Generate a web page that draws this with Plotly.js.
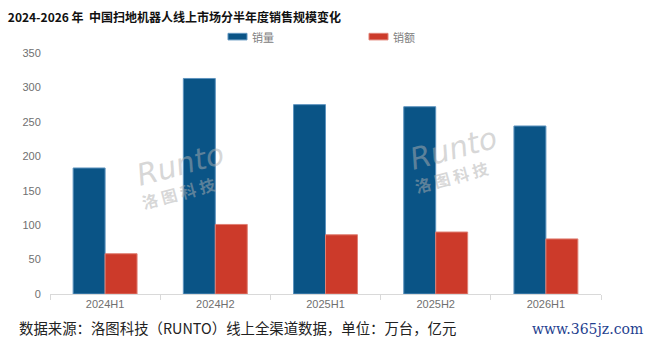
<!DOCTYPE html>
<html><head><meta charset="utf-8">
<script src="https://cdn.plot.ly/plotly-3.0.1.min.js"></script>
<style>html,body{margin:0;padding:0;background:#fff}#chart{width:650px;height:347px}</style>
</head><body><div id="chart"></div>
<script>
var categories = ["2024H1","2024H2","2025H1","2025H2","2026H1"];
var salesVolume = [183, 313, 275, 272, 244];   // 销量 万台
var salesValue = [58.5, 101, 86, 90, 80];      // 销额 亿元
var yTicks = [0,50,100,150,200,250,300,350];
var seriesNames = ["销量","销额"];
var seriesColors = ["#0A5486","#CC3A2A"];

var cjk = '"Noto Sans CJK SC", "Noto Sans", sans-serif';
var traces = [
  {type:'bar', name:seriesNames[0], x:categories, y:salesVolume, showlegend:false,
   marker:{color:seriesColors[0], line:{color:'#5D93BE', width:1}}},
  {type:'bar', name:seriesNames[1], x:categories, y:salesValue, showlegend:false,
   marker:{color:seriesColors[1], line:{color:'#E07F73', width:1}}}
];
function px(x){return (x-50)/551;}
function py(y){return (294-y)/239;}
var ann = [];
[[180,166,-2],[453,150,-2]].forEach(function(p){
  ann.push({xref:'paper', yref:'paper', x:px(p[0]), y:py(p[1]), xanchor:'center', yanchor:'middle', text:'<i>Runto</i>', showarrow:false,
    textangle:-15, font:{family:'DejaVu Sans, sans-serif', size:30, color:'rgba(175,175,175,0.5)'}});
  ann.push({xref:'paper', yref:'paper', x:px(p[0]+p[2]), y:py(p[1]+28), xanchor:'center', yanchor:'middle', text:'<b>洛 图 科 技</b>', showarrow:false,
    textangle:-15, font:{family:cjk, size:16, color:'rgba(175,175,175,0.5)'}});
});
var shapes = [];
var legX = [228, 369];
seriesNames.forEach(function(n,i){
  shapes.push({type:'rect', xref:'paper', yref:'paper', x0:px(legX[i]), x1:px(legX[i]+19), y0:py(42), y1:py(35.5),
    fillcolor:seriesColors[i], line:{color:i?'#E07F73':'#5D93BE', width:1}});
  ann.push({xref:'paper', yref:'paper', x:px(legX[i]+22), y:py(39), xanchor:'left', yanchor:'middle', showarrow:false,
    text:n, font:{family:cjk, size:11, color:'#808080'}});
});
var layout = {
  width:650, height:347,
  margin:{l:50, r:49, t:53, b:53},
  paper_bgcolor:'#fff', plot_bgcolor:'#fff',
  barmode:'group', bargap:0.42, bargroupgap:0,
  showlegend:false,
  font:{family:cjk, color:'#595959'},
  title:{text:'<b>2024-2026 年  中国扫地机器人线上市场分半年度销售规模变化</b>', x:0.012, xanchor:'left', y:0.95, yanchor:'middle',
    font:{family:cjk, size:12, color:'#111'}},
  xaxis:{type:'category', showline:true, linecolor:'#D9D9D9', ticks:'outside', ticklen:5, tickcolor:'#D9D9D9',
    tickson:'boundaries', showgrid:false, tickfont:{family:'Liberation Sans, Arial, sans-serif', size:11, color:'#707070'}},
  yaxis:{range:[0,350], tickvals:yTicks, showgrid:false, zeroline:false, showline:false,
    tickfont:{family:'Liberation Sans, Arial, sans-serif', size:11, color:'#707070'}, ticklen:6, ticks:'outside', tickcolor:'#fff'},
  shapes: shapes,
  annotations: ann.concat([
    {xref:'paper', yref:'paper', x:px(17), y:py(327), xanchor:'left', yanchor:'middle', showarrow:false,
      text:'数据来源：洛图科技（RUNTO）线上全渠道数据，单位：万台，亿元', font:{family:cjk, size:14.4, color:'#222'}},
    {xref:'paper', yref:'paper', x:px(645), y:py(329), xanchor:'right', yanchor:'middle', showarrow:false,
      text:'www.365jz.com', font:{family:'DejaVu Serif, serif', size:14, color:'#1F3F8F'}}
  ])
};
Plotly.newPlot('chart', traces, layout, {displayModeBar:false, staticPlot:true});
</script></body></html>
